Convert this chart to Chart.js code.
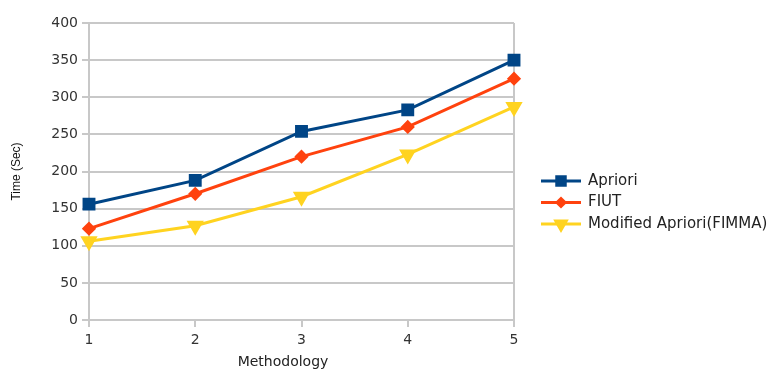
<!DOCTYPE html>
<html>
<head>
  <title>Methodology time</title>
  <meta charset="utf-8">
  <script src="https://cdn.jsdelivr.net/npm/chart.js@4.4.1/dist/chart.umd.min.js"></script>
  <style>
    body { margin: 0; background: #fff; }
    #wrap { width: 774px; height: 374px; position: relative; }
  </style>
</head>
<body>
  <div id="wrap"><canvas id="line-chart"></canvas></div>

<script>
  var labels = ["1", "2", "3", "4", "5"]
  var apriori = [156, 188, 254, 283, 350]
  var fiut = [123, 170, 220, 260, 325]
  var fimma = [106, 127, 166, 223, 287]
  var seriesNames = ["Apriori", "FIUT", "Modified Apriori(FIMMA)"]
  var yTicks = [0, 50, 100, 150, 200, 250, 300, 350, 400]
  var xTitle = "Methodology"

  var colors = ["#004586", "#ff420e", "#ffd320"]
  var gridGrey = "#c8c8c8"
  var font = "'DejaVu Sans', sans-serif"
  var narrowFont = "'Liberation Sans', Arial, sans-serif"

  // legend drawn by hand so it can show line + marker like the original,
  // x title too since the original sits left of the axis centre
  var lineLegend = {
    id: 'lineLegend',
    afterDraw: function(chart) {
      var ctx = chart.ctx
      var x0 = 541, y0 = 181, gap = 21.5
      chart.data.datasets.forEach(function(ds, i) {
        var y = y0 + i * gap
        ctx.save()
        ctx.strokeStyle = ds.borderColor
        ctx.lineWidth = 3
        ctx.beginPath()
        ctx.moveTo(x0, y)
        ctx.lineTo(x0 + 40, y)
        ctx.stroke()
        ctx.fillStyle = ds.backgroundColor
        Chart.helpers.drawPoint(ctx, {
          pointStyle: ds.pointStyle,
          rotation: ds.pointRotation || 0,
          radius: ds.pointRadius - 1,
          borderWidth: 1
        }, x0 + 20, y)
        ctx.fillStyle = "#222"
        ctx.font = "15px " + font
        ctx.textBaseline = "middle"
        ctx.fillText(ds.label, x0 + 47, y)
        ctx.restore()
      })
      ctx.save()
      ctx.fillStyle = "#222"
      ctx.font = "14px " + font
      ctx.textAlign = "center"
      ctx.textBaseline = "middle"
      ctx.fillText(xTitle, 283, 362)
      ctx.restore()
    }
  }

  new Chart(document.getElementById("line-chart"), {
    type: 'line',
    data: {
      labels: labels,
      datasets: [{
        label: seriesNames[0],
        data: apriori,
        borderColor: colors[0],
        backgroundColor: colors[0],
        pointStyle: 'rect',
        pointRadius: 7,
        borderWidth: 3,
        fill: false
      }, {
        label: seriesNames[1],
        data: fiut,
        borderColor: colors[1],
        backgroundColor: colors[1],
        pointStyle: 'rectRot',
        pointRadius: 5,
        borderWidth: 3,
        fill: false
      }, {
        label: seriesNames[2],
        data: fimma,
        borderColor: colors[2],
        backgroundColor: colors[2],
        pointStyle: 'triangle',
        pointRotation: 180,
        pointRadius: 7,
        borderWidth: 3,
        fill: false
      }]
    },
    options: {
      responsive: true,
      maintainAspectRatio: false,
      animation: false,
      layout: { padding: { top: 23, right: 260, left: 0, bottom: 0 } },
      plugins: {
        legend: { display: false },
        tooltip: { enabled: false }
      },
      scales: {
        x: {
          offset: false,
          afterFit: function(s) { s.height = 54 },
          grid: {
            color: function(c) { return (c.index === 0 || c.index === labels.length - 1) ? gridGrey : 'rgba(0,0,0,0)' },
            tickColor: gridGrey,
            tickLength: 7,
            lineWidth: 2
          },
          border: { color: gridGrey, width: 2 },
          ticks: { color: "#333", font: { family: font, size: 14 }, padding: 5 }
        },
        y: {
          min: 0,
          max: 400,
          afterFit: function(s) { s.width = 89 },
          afterBuildTicks: function(s) { s.ticks = yTicks.map(function(v) { return { value: v } }) },
          grid: { color: gridGrey, tickColor: gridGrey, tickLength: 7, lineWidth: 2 },
          border: { color: gridGrey, width: 2 },
          ticks: { color: "#333", font: { family: font, size: 14 }, padding: 4 },
          title: {
            display: true,
            text: 'Time (Sec)',
            color: "#111",
            font: { family: narrowFont, size: 12 },
            padding: { top: 9, bottom: 0 }
          }
        }
      }
    },
    plugins: [lineLegend]
  });
</script>
</body>
</html>
